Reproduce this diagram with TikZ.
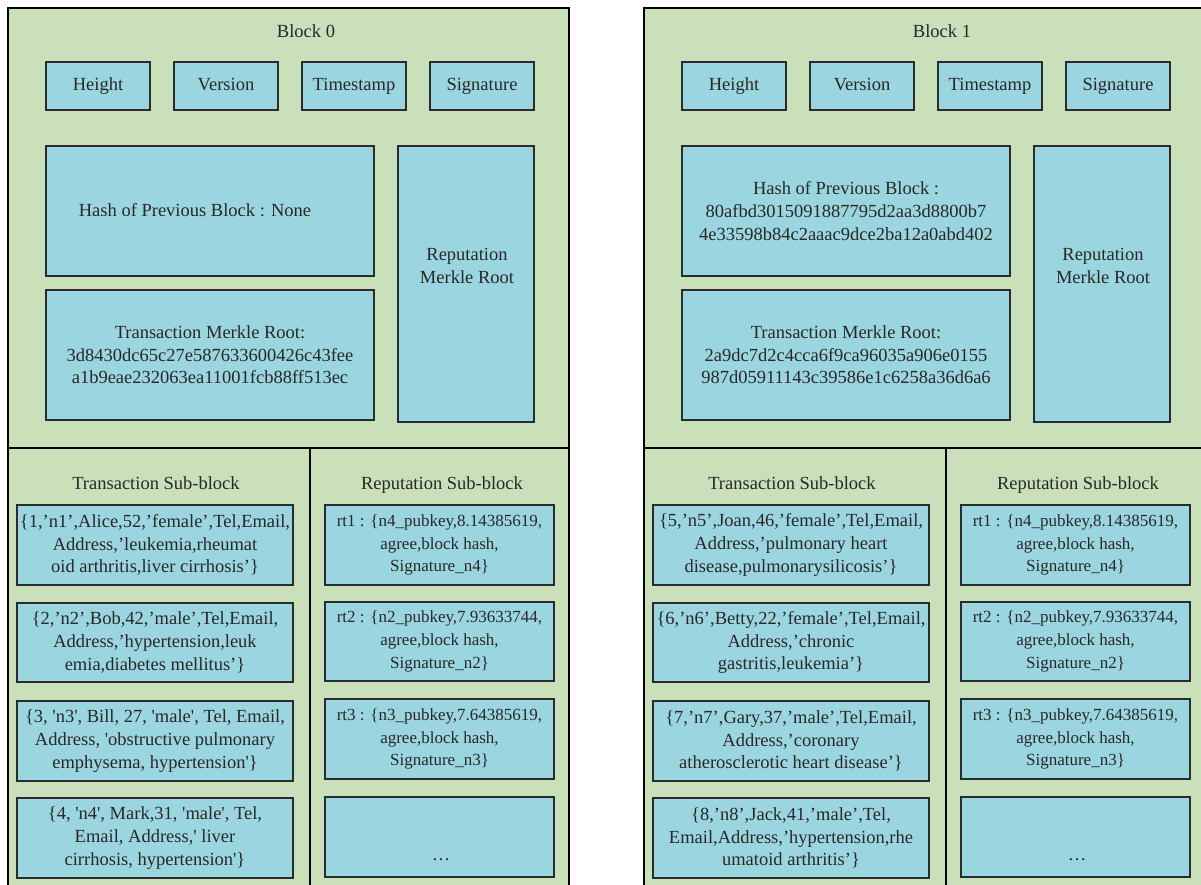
\documentclass[tikz,border=0pt]{standalone}
\usepackage{fontspec}
\setmainfont{Liberation Serif}
\definecolor{blockgreen}{RGB}{201,224,187}
\definecolor{cellblue}{RGB}{155,214,224}
\definecolor{linec}{RGB}{40,44,44}
\definecolor{txt}{RGB}{40,40,40}
\newcommand\sq{\textquotesingle}
\newcommand\cell[7][]{\node[cellbox,#1, minimum width={(#5)-(#3)}, minimum height={(#6)-(#4)}] (#2) at ({((#3)+(#5))/2},{((#4)+(#6))/2}) {#7};}
\begin{document}
\begin{tikzpicture}[x=1pt,y=-1pt,
  font=\fontsize{18.5}{22.6}\selectfont, text=txt,
  cellbox/.style={draw=linec, line width=1.3pt, fill=cellblue, align=center, inner sep=0pt},
  onecell/.style={text height=12.5pt, text depth=4.5pt},
  repfont/.style={font=\fontsize{17}{22.6}\selectfont},
  frame/.style={draw=black, line width=1.4pt, fill=blockgreen},
  divider/.style={draw=black, line width=1.2pt},
  lbl/.style={align=center, inner sep=0pt},
  head/.style={inner sep=0pt, anchor=base}]
\useasboundingbox (0,0) rectangle (1201,884);
\clip (0,0) rectangle (1201,884);
\fill[white] (0,0) rectangle (1201,884);

% ---------------- Block 0 ----------------
\draw[frame] (8,8) rectangle (569,900);
\draw[divider] (8,448) -- (569,448);
\draw[divider] (310,448) -- (310,900);
\node[head] (title0) at (306,37) {Block 0};
\cell[onecell]{h0}{46}{62}{150}{110}{Height}
\cell[onecell]{v0}{174}{62}{278}{110}{Version}
\cell[onecell]{ts0}{302}{62}{406}{110}{Timestamp}
\cell[onecell]{sg0}{430}{62}{534}{110}{Signature}
\cell{hp0}{46}{146}{374}{276}{}
\node[head] (hp0t) at (195,216) {Hash of Previous Block : None};
\cell{tm0}{46}{290}{374}{420}{Transaction Merkle Root:\\3d8430dc65c27e587633600426c43fee\\a1b9eae232063ea11001fcb88ff513ec}
\cell{rm0}{398}{146}{534}{422}{}
\node[lbl] (rm0t) at (467,266) {Reputation\\Merkle Root};
\node[head] (tsb0) at (156,489) {Transaction Sub-block};
\node[head] (rsb0) at (442,489) {Reputation Sub-block};
\cell{tx1}{17}{505}{293}{585}{\{1,'n1',Alice,52,'female',Tel,Email,\\Address,'leukemia,rheumat\\oid arthritis,liver cirrhosis'\}}
\cell{tx2}{17}{603}{293}{682}{\{2,'n2',Bob,42,'male',Tel,Email,\\Address,'hypertension,leuk\\emia,diabetes mellitus'\}}
\cell{tx3}{17}{701}{293}{781}{\{3, \sq n3\sq, Bill, 27, \sq male\sq, Tel, Email,\\Address, \sq obstructive pulmonary\\emphysema, hypertension\sq\}}
\cell{tx4}{17}{798}{293}{878}{\{4, \sq n4\sq, Mark,31, \sq male\sq, Tel,\\Email, Address,\sq\ liver\\cirrhosis, hypertension\sq\}}
\cell[repfont]{rt01}{325}{505}{554}{585}{rt1 : \{n4\_pubkey,8.14385619,\\agree,block hash,\\Signature\_n4\}}
\cell[repfont]{rt02}{325}{602}{554}{681}{rt2 : \{n2\_pubkey,7.93633744,\\agree,block hash,\\Signature\_n2\}}
\cell[repfont]{rt03}{325}{699}{554}{779}{rt3 : \{n3\_pubkey,7.64385619,\\agree,block hash,\\Signature\_n3\}}
\cell{rt04}{325}{797}{554}{877}{}
\node[head] (dots0) at (441,860) {\dots};

% ---------------- Block 1 ----------------
\begin{scope}[xshift=636]
\draw[frame] (8,8) rectangle (569,900);
\draw[divider] (8,448) -- (569,448);
\draw[divider] (310,448) -- (310,900);
\node[head] (title1) at (306,37) {Block 1};
\cell[onecell]{h1}{46}{62}{150}{110}{Height}
\cell[onecell]{v1}{174}{62}{278}{110}{Version}
\cell[onecell]{ts1}{302}{62}{406}{110}{Timestamp}
\cell[onecell]{sg1}{430}{62}{534}{110}{Signature}
\cell{hp1}{46}{146}{374}{276}{Hash of Previous Block :\\80afbd3015091887795d2aa3d8800b7\\4e33598b84c2aaac9dce2ba12a0abd402}
\cell{tm1}{46}{290}{374}{420}{Transaction Merkle Root:\\2a9dc7d2c4cca6f9ca96035a906e0155\\987d05911143c39586e1c6258a36d6a6}
\cell{rm1}{398}{146}{534}{422}{}
\node[lbl] (rm1t) at (467,266) {Reputation\\Merkle Root};
\node[head] (tsb1) at (156,489) {Transaction Sub-block};
\node[head] (rsb1) at (442,489) {Reputation Sub-block};
\cell{tx5}{17}{505}{293}{585}{\{5,'n5',Joan,46,'female',Tel,Email,\\Address,'pulmonary heart\\disease,pulmonarysilicosis'\}}
\cell{tx6}{17}{603}{293}{682}{\{6,'n6',Betty,22,'female',Tel,Email,\\Address,'chronic\\gastritis,leukemia'\}}
\cell{tx7}{17}{701}{293}{781}{\{7,'n7',Gary,37,'male',Tel,Email,\\Address,'coronary\\atherosclerotic heart disease'\}}
\cell{tx8}{17}{798}{293}{878}{\{8,'n8',Jack,41,'male',Tel,\\Email,Address,'hypertension,rhe\\umatoid arthritis'\}}
\cell[repfont]{rt11}{325}{505}{554}{585}{rt1 : \{n4\_pubkey,8.14385619,\\agree,block hash,\\Signature\_n4\}}
\cell[repfont]{rt12}{325}{602}{554}{681}{rt2 : \{n2\_pubkey,7.93633744,\\agree,block hash,\\Signature\_n2\}}
\cell[repfont]{rt13}{325}{699}{554}{779}{rt3 : \{n3\_pubkey,7.64385619,\\agree,block hash,\\Signature\_n3\}}
\cell{rt14}{325}{797}{554}{877}{}
\node[head] (dots1) at (441,860) {\dots};
\end{scope}
\end{tikzpicture}
\end{document}
